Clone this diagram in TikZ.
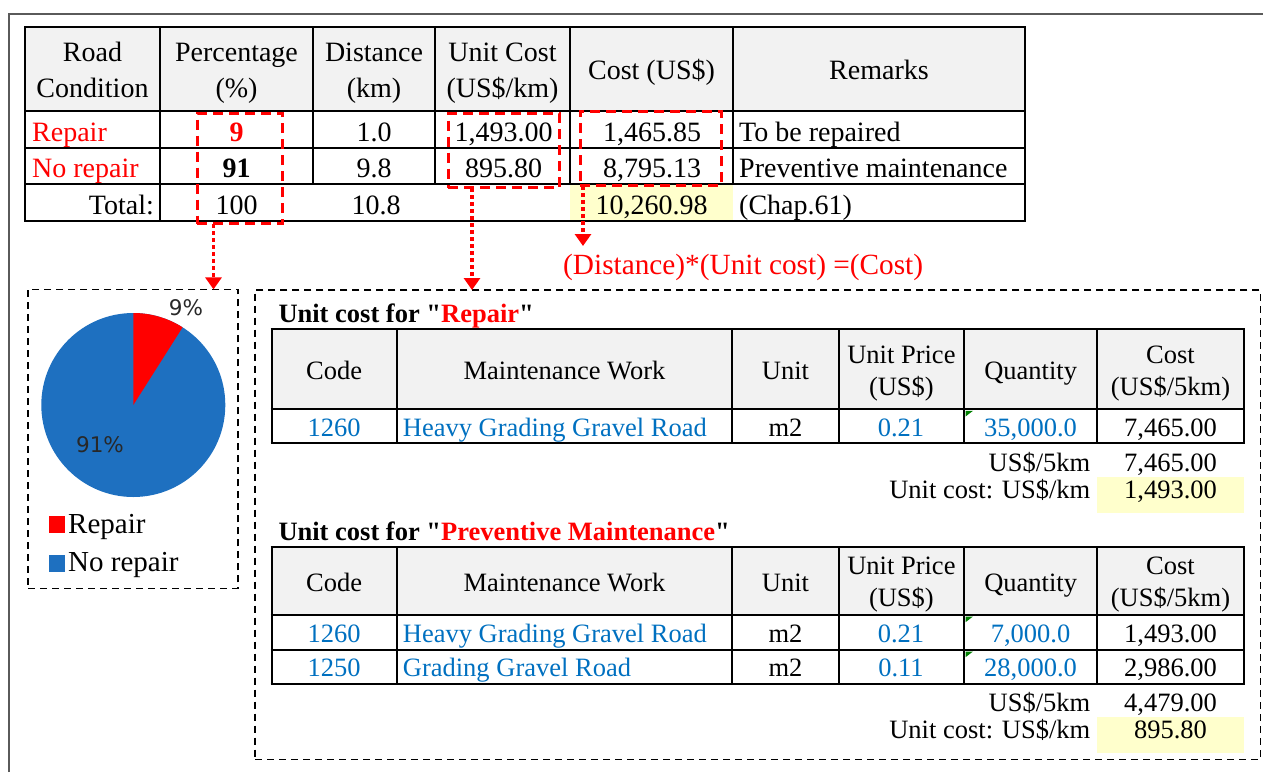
\documentclass[tikz,border=0pt]{standalone}
\usepackage{fontspec}
\setmainfont{Liberation Serif}[Ligatures=TeXOff]
\newfontfamily\piefont{DejaVu Sans}
\usetikzlibrary{arrows.meta}
\definecolor{xlred}{RGB}{255,0,0}
\definecolor{xlblue}{RGB}{0,112,192}
\definecolor{pieblue}{RGB}{30,112,192}
\definecolor{hdrgray}{RGB}{242,242,242}
\definecolor{hilite}{RGB}{255,255,204}
\definecolor{framegray}{RGB}{90,90,90}
\definecolor{flaggreen}{RGB}{0,128,0}
\definecolor{labelgray}{RGB}{40,40,40}
\begin{document}
\begin{tikzpicture}[x=1pt,y=-1pt,
  grid/.style={line width=2pt,black},
  big/.style={font=\fontsize{28}{34}\selectfont,inner sep=0pt,anchor=base},
  small/.style={font=\fontsize{26.5}{32}\selectfont,inner sep=0pt,anchor=base},
  redbox/.style={draw=xlred,line width=3pt,dash pattern=on 10pt off 6pt,inner sep=0pt,outer sep=0pt},
  blackdash/.style={draw=black,line width=1.5pt,dash pattern=on 7pt off 5pt,inner sep=0pt,outer sep=0pt},
  redarrow/.style={draw=xlred,line width=3.5pt,dash pattern=on 3.5pt off 3.5pt,
    -{Triangle[width=16pt,length=12pt]}},
  swatch/.style={inner sep=0pt,minimum width=16pt,minimum height=17pt},
  flag/.style={fill=flaggreen},
  pielabel/.style={font=\piefont\fontsize{21.5}{25}\selectfont,text=labelgray,inner sep=0pt},
]
\useasboundingbox (0,0) rectangle (1263,772);

% page frame
\draw[framegray,line width=2pt] (9,772) -- (9,14) -- (1263,14);

% ---------------- summary table ----------------
\fill[hdrgray] (25,27) rectangle (1025,111);
\fill[hilite] (570,184) rectangle (733,221);
\foreach \yy in {27,111,148,184,221} \draw[grid] (24,\yy) -- (1026,\yy);
\foreach \xx in {25,160,1025} \draw[grid] (\xx,27) -- (\xx,221);
\foreach \xx in {313,435,570,733} \draw[grid] (\xx,27) -- (\xx,184);

\node[big] (h1a) at (92.5,61) {Road};
\node[big] (h1b) at (92.5,97.7) {Condition};
\node[big] (h2a) at (236.5,61) {Percentage};
\node[big] (h2b) at (236.5,97.7) {(\%)};
\node[big] (h3a) at (374,61) {Distance};
\node[big] (h3b) at (374,97.7) {(km)};
\node[big] (h4a) at (502.5,61) {Unit Cost};
\node[big] (h4b) at (502.5,97.7) {(US\$/km)};
\node[big] (h5) at (651.5,79.3) {Cost (US\$)};
\node[big] (h6) at (879,79.3) {Remarks};

\node[big,anchor=base west,text=xlred] (r1c1) at (32,141.7) {Repair};
\node[big,text=xlred] (r1c2) at (236.5,141.7) {\textbf{9}};
\node[big] (r1c3) at (374,141.7) {1.0};
\node[big] (r1c4) at (503.5,141.7) {1,493.00};
\node[big] (r1c5) at (652,141.7) {1,465.85};
\node[big,anchor=base west] (r1c6) at (739,141.7) {To be repaired};

\node[big,anchor=base west,text=xlred] (r2c1) at (32,177.5) {No repair};
\node[big] (r2c2) at (236.5,177.5) {\textbf{91}};
\node[big] (r2c3) at (374,177.5) {9.8};
\node[big] (r2c4) at (503.5,177.5) {895.80};
\node[big] (r2c5) at (652,177.5) {8,795.13};
\node[big,anchor=base west] (r2c6) at (739,177.5) {Preventive maintenance};

\node[big,anchor=base east] (tc1) at (154,214.3) {Total:};
\node[big] (tc2) at (236.5,214.3) {100};
\node[big] (tc3) at (376,214.3) {10.8};
\node[big] (tc5) at (651.5,214.3) {10,260.98};
\node[big,anchor=base west] (tc6) at (739,214.3) {(Chap.61)};

% highlighted columns
\node[redbox,minimum width=85.5pt,minimum height=110.5pt] (pctbox) at (239.75,168.25) {};
\node[redbox,minimum width=111pt,minimum height=74.5pt] (ucbox) at (503.5,150.25) {};
\node[redbox,minimum width=141pt,minimum height=74pt] (costbox) at (650.5,148) {};

% ---------------- pie chart ----------------
\node[blackdash,minimum width=210pt,minimum height=299pt] (piebox) at (133,438.9) {};
\coordinate (pc) at (133.3,405);
\fill[pieblue] (pc) circle[radius=92pt];
\fill[xlred] (pc) -- ++(90:92pt) arc[start angle=90,end angle=57.6,radius=92pt] -- cycle;
\node[pielabel] (p9) at (186,308) {9\%};
\node[pielabel] (p91) at (100,445) {91\%};
\node[swatch,fill=xlred] (legr) at (57,524.5) {};
\node[swatch,fill=pieblue] (legb) at (57,563.5) {};
\node[font=\fontsize{29}{34}\selectfont,inner sep=0pt,anchor=base west] (legrt) at (68,533.5) {Repair};
\node[font=\fontsize{29}{34}\selectfont,inner sep=0pt,anchor=base west] (legbt) at (68,571.7) {No repair};

% ---------------- unit cost panel ----------------
\node[blackdash,minimum width=1005.5pt,minimum height=469.3pt] (ucpanel) at (757.75,524.65) {};

% arrows
\coordinate (a1) at (213.5,224);
\coordinate (a2) at (472,188);
\coordinate (a3) at (583,186);
\coordinate (a3end) at (583,246);
\draw[redarrow] (a1) -- (a1 |- piebox.north);
\draw[redarrow] (a2) -- (a2 |- ucpanel.north);
\draw[redarrow] (a3) -- (a3end);
\node[font=\fontsize{29.3}{35}\selectfont,text=xlred,inner sep=0pt,anchor=base west] (formula) at (563,274) {(Distance)*(Unit cost) =(Cost)};

% table: repair
\node[small,anchor=base west] (t1title) at (278.3,322.7) {\textbf{Unit cost for "\textcolor{xlred}{Repair}"}};
\fill[hdrgray] (271.7,329.3) rectangle (1243.6,409.3);
\foreach \yy in {329.3,409.3,443.3} \draw[grid] (270.7,\yy) -- (1244.6,\yy);
\foreach \xx in {271.7,396.7,732.3,838.8,964,1097.3,1243.6} \draw[grid] (\xx,329.3) -- (\xx,443.3);
\node[small] (t1h1) at (334.2,379) {Code};
\node[small] (t1h2) at (564.5,379) {Maintenance Work};
\node[small] (t1h3) at (785.5,379) {Unit};
\node[small] (t1h4a) at (901.4,363) {Unit Price};
\node[small] (t1h4b) at (901.4,395) {(US\$)};
\node[small] (t1h5) at (1030.7,379) {Quantity};
\node[small] (t1h6a) at (1170.5,363) {Cost};
\node[small] (t1h6b) at (1170.5,395) {(US\$/5km)};
\node[small,text=xlblue] (t1r1c1) at (334.2,436.5) {1260};
\node[small,text=xlblue,anchor=base west] (t1r1c2) at (402.7,436.5) {Heavy Grading Gravel Road};
\node[small] (t1r1c3) at (785.5,436.5) {m2};
\node[small,text=xlblue] (t1r1c4) at (901,436.5) {0.21};
\node[small,text=xlblue] (t1r1c5) at (1030.5,436.5) {35,000.0};
\node[small] (t1r1c6) at (1170.5,436.5) {7,465.00};
\fill[flag] (965.5,410.8) -- (973,410.8) -- (965.5,416.5) -- cycle;
\node[small,anchor=base east] (t1s1) at (1090.5,471.7) {US\$/5km};
\node[small] (t1s1v) at (1170.5,471.7) {7,465.00};
\fill[hilite] (1097.3,477.3) rectangle (1243.6,512.7);
\node[small,anchor=base east] (t1s2) at (1090.5,498.3) {Unit cost: US\$/km};
\node[small] (t1s2v) at (1170.5,498.3) {1,493.00};

% table: preventive maintenance
\node[small,anchor=base west] (t2title) at (278.3,540.7) {\textbf{Unit cost for "\textcolor{xlred}{Preventive Maintenance}"}};
\fill[hdrgray] (271.7,547.3) rectangle (1243.6,615);
\foreach \yy in {547.3,615,650,684} \draw[grid] (270.7,\yy) -- (1244.6,\yy);
\foreach \xx in {271.7,396.7,732.3,838.8,964,1097.3,1243.6} \draw[grid] (\xx,547.3) -- (\xx,684);
\node[small] (t2h1) at (334.2,591) {Code};
\node[small] (t2h2) at (564.5,591) {Maintenance Work};
\node[small] (t2h3) at (785.5,591) {Unit};
\node[small] (t2h4a) at (901.4,574) {Unit Price};
\node[small] (t2h4b) at (901.4,606.5) {(US\$)};
\node[small] (t2h5) at (1030.7,591) {Quantity};
\node[small] (t2h6a) at (1170.5,574) {Cost};
\node[small] (t2h6b) at (1170.5,606.5) {(US\$/5km)};
\node[small,text=xlblue] (t2r1c1) at (334.2,642.3) {1260};
\node[small,text=xlblue,anchor=base west] (t2r1c2) at (402.7,642.3) {Heavy Grading Gravel Road};
\node[small] (t2r1c3) at (785.5,642.3) {m2};
\node[small,text=xlblue] (t2r1c4) at (901,642.3) {0.21};
\node[small,text=xlblue] (t2r1c5) at (1030.5,642.3) {7,000.0};
\node[small] (t2r1c6) at (1170.5,642.3) {1,493.00};
\node[small,text=xlblue] (t2r2c1) at (334.2,676.7) {1250};
\node[small,text=xlblue,anchor=base west] (t2r2c2) at (402.7,676.7) {Grading Gravel Road};
\node[small] (t2r2c3) at (785.5,676.7) {m2};
\node[small,text=xlblue] (t2r2c4) at (901,676.7) {0.11};
\node[small,text=xlblue] (t2r2c5) at (1030.5,676.7) {28,000.0};
\node[small] (t2r2c6) at (1170.5,676.7) {2,986.00};
\fill[flag] (965.5,616.5) -- (973,616.5) -- (965.5,622.2) -- cycle;
\fill[flag] (965.5,651.5) -- (973,651.5) -- (965.5,657.2) -- cycle;
\node[small,anchor=base east] (t2s1) at (1090.5,711.7) {US\$/5km};
\node[small] (t2s1v) at (1170.5,711.7) {4,479.00};
\fill[hilite] (1097.3,717.3) rectangle (1243.6,752.7);
\node[small,anchor=base east] (t2s2) at (1090.5,738.3) {Unit cost: US\$/km};
\node[small] (t2s2v) at (1170.5,738.3) {895.80};
\end{tikzpicture}
\end{document}
